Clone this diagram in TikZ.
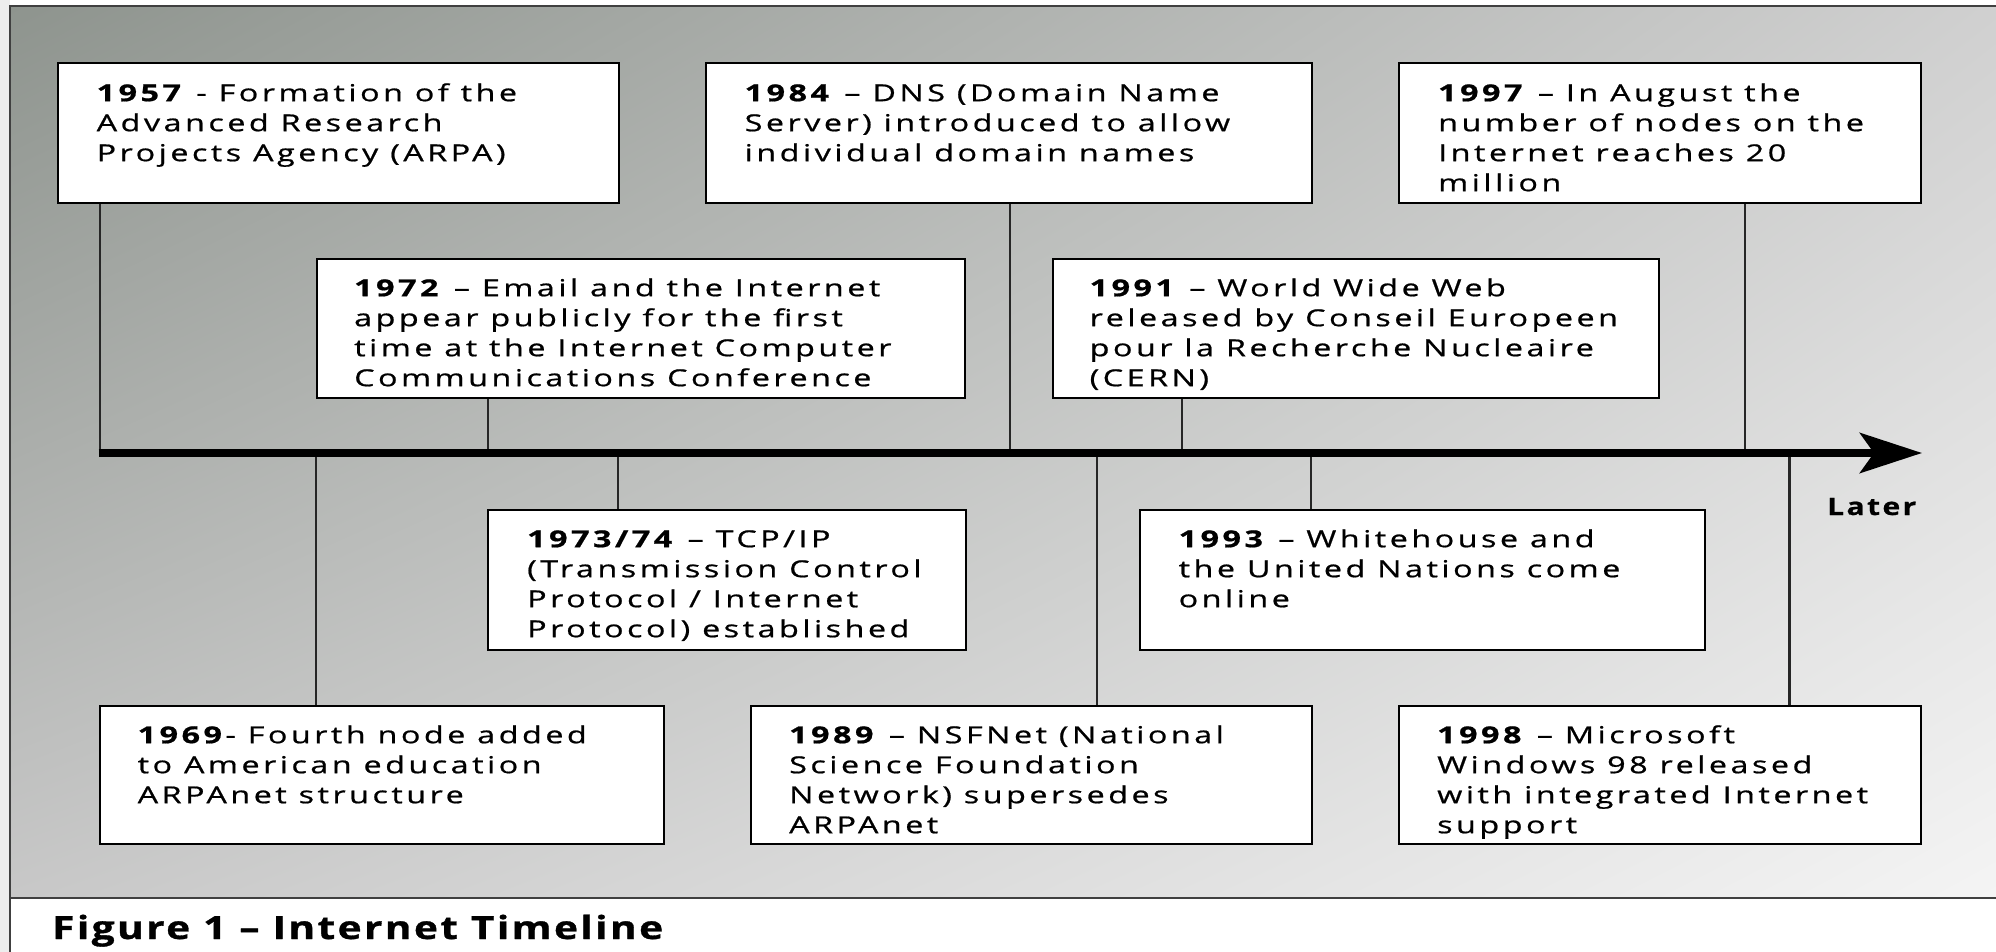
\documentclass[tikz,border=0pt]{standalone}
\usepackage{fontspec}
\setmainfont{Open Sans}
\newfontfamily\boxfont[FakeStretch=1.38,LetterSpace=15,FakeBold=0.8]{Open Sans}
\newfontfamily\capfont[FakeStretch=1.27,LetterSpace=7.5,FakeBold=1]{Open Sans}
\newfontfamily\laterfont[FakeStretch=1.25,LetterSpace=10,FakeBold=0.8]{Open Sans}
\usetikzlibrary{arrows.meta,shadings}
\definecolor{bgUL}{RGB}{142,148,142}
\definecolor{bgUR}{RGB}{208,208,208}
\definecolor{bgLL}{RGB}{200,200,200}
\definecolor{bgLR}{RGB}{244,244,244}
\begin{document}
\begin{tikzpicture}[x=1pt,y=-1pt,
  evbox/.style={draw=black, line width=2pt, fill=white, anchor=north west, inner sep=0pt},
  evtext/.style={anchor=north west, inner sep=0pt, align=left,
    font=\boxfont\fontsize{23.4}{30}\selectfont, text=black},
  conn/.style={line width=2.6pt, draw=black!85},
  framel/.style={line width=2pt, draw=black!75}]
\useasboundingbox (0,0) rectangle (1996,952);
\fill[white] (0,0) rectangle (1996,952);
\fill[black!7] (0,0) rectangle (10,952);
\shade[upper left=bgUL, upper right=bgUR, lower left=bgLL, lower right=bgLR] (10,6) rectangle (1996,898);
\draw[framel] (1996,6) -- (10,6) -- (10,952);
\draw[framel] (10,898) -- (1996,898);

% boxes
\node[evbox, minimum width=561.5pt, minimum height=140pt] (b1957) at (56.5,62) {};
\node[evbox, minimum width=606.5pt, minimum height=140pt] (b1984) at (704.5,62) {};
\node[evbox, minimum width=522pt, minimum height=140pt] (b1997) at (1398,62) {};
\node[evbox, minimum width=648pt, minimum height=139pt] (b1972) at (316,258) {};
\node[evbox, minimum width=606.5pt, minimum height=139pt] (b1991) at (1051.5,258) {};
\node[evbox, minimum width=477.5pt, minimum height=140pt] (b1973) at (487,509) {};
\node[evbox, minimum width=565.5pt, minimum height=140pt] (b1993) at (1138.5,509) {};
\node[evbox, minimum width=564pt, minimum height=138pt] (b1969) at (98.5,705) {};
\node[evbox, minimum width=561pt, minimum height=138pt] (b1989) at (750,705) {};
\node[evbox, minimum width=522pt, minimum height=138pt] (b1998) at (1398,705) {};

% texts
\node[evtext] (t1957) at ([xshift=40pt,yshift=-17pt]b1957.north west) {\rule{0pt}{22pt}\textbf{1957} - Formation of the\\Advanced Research\\Projects Agency (ARPA)};
\node[evtext] (t1984) at ([xshift=40pt,yshift=-17pt]b1984.north west) {\rule{0pt}{22pt}\textbf{1984} – DNS (Domain Name\\Server) introduced to allow\\individual domain names};
\node[evtext] (t1997) at ([xshift=40pt,yshift=-17pt]b1997.north west) {\rule{0pt}{22pt}\textbf{1997} – In August the\\number of nodes on the\\Internet reaches 20\\million};
\node[evtext] (t1972) at ([xshift=38pt,yshift=-16pt]b1972.north west) {\rule{0pt}{22pt}\textbf{1972} – Email and the Internet\\appear publicly for the first\\time at the Internet Computer\\Communications Conference};
\node[evtext] (t1991) at ([xshift=38pt,yshift=-16pt]b1991.north west) {\rule{0pt}{22pt}\textbf{1991} – World Wide Web\\released by Conseil Europeen\\pour la Recherche Nucleaire\\(CERN)};
\node[evtext] (t1973) at ([xshift=40pt,yshift=-16pt]b1973.north west) {\rule{0pt}{22pt}\textbf{1973/74} – TCP/IP\\(Transmission Control\\Protocol / Internet\\Protocol) established};
\node[evtext] (t1993) at ([xshift=40pt,yshift=-16pt]b1993.north west) {\rule{0pt}{22pt}\textbf{1993} – Whitehouse and\\the United Nations come\\online};
\node[evtext] (t1969) at ([xshift=39pt,yshift=-16pt]b1969.north west) {\rule{0pt}{22pt}\textbf{1969}- Fourth node added\\to American education\\ARPAnet structure};
\node[evtext] (t1989) at ([xshift=39pt,yshift=-16pt]b1989.north west) {\rule{0pt}{22pt}\textbf{1989} – NSFNet (National\\Science Foundation\\Network) supersedes\\ARPAnet};
\node[evtext] (t1998) at ([xshift=39pt,yshift=-16pt]b1998.north west) {\rule{0pt}{22pt}\textbf{1998} – Microsoft\\Windows 98 released\\with integrated Internet\\support};

% axis
\coordinate (axL) at (98.5,453);
\coordinate (axR) at (1922,453);

% connectors above
\draw[conn] ([xshift=43.5pt]b1957.south west) -- ([xshift=43.5pt]b1957.south west |- axL);
\draw[conn] ([xshift=172pt]b1972.south west) -- ([xshift=172pt]b1972.south west |- axL);
\draw[conn] ([xshift=305.5pt]b1984.south west) -- ([xshift=305.5pt]b1984.south west |- axL);
\draw[conn] ([xshift=130.5pt]b1991.south west) -- ([xshift=130.5pt]b1991.south west |- axL);
\draw[conn] ([xshift=347pt]b1997.south west) -- ([xshift=347pt]b1997.south west |- axL);
% connectors below
\draw[conn] ([xshift=217.5pt]b1969.north west) -- ([xshift=217.5pt]b1969.north west |- axL);
\draw[conn] ([xshift=131pt]b1973.north west) -- ([xshift=131pt]b1973.north west |- axL);
\draw[conn] ([xshift=347pt]b1989.north west) -- ([xshift=347pt]b1989.north west |- axL);
\draw[conn] ([xshift=172.5pt]b1993.north west) -- ([xshift=172.5pt]b1993.north west |- axL);
\draw[conn] ([xshift=391.5pt]b1998.north west) -- ([xshift=391.5pt]b1998.north west |- axL);

\draw[line width=8pt, -{Stealth[length=62pt,width=40pt,inset=14pt]}] (axL) -- (axR);

\node[anchor=base west, inner sep=0pt, font=\laterfont\bfseries\fontsize{24}{28}\selectfont] (later) at (1827,515) {Later};
\node[anchor=base west, inner sep=0pt, font=\capfont\bfseries\fontsize{32}{38}\selectfont] (caption) at (52,939) {Figure 1 – Internet Timeline};
\end{tikzpicture}
\end{document}
